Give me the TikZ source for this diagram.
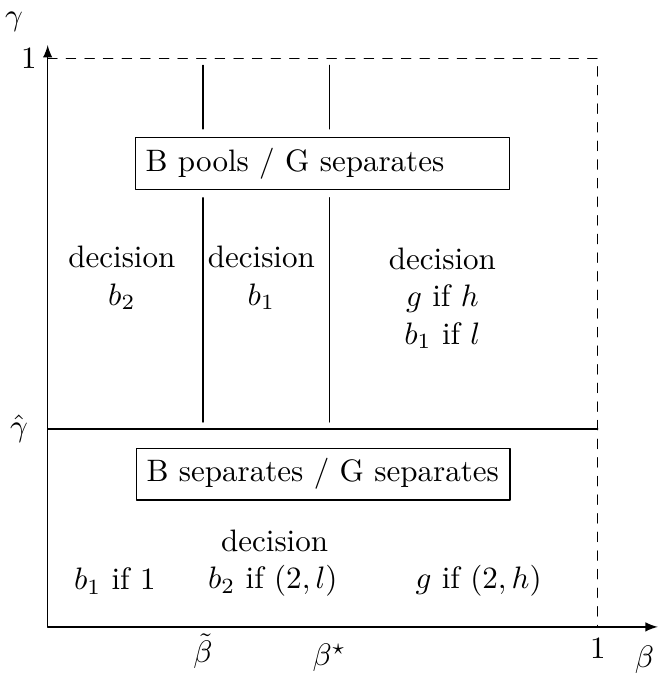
\documentclass[tikz,border=0pt]{standalone}
\usepackage{amsmath,amssymb}
\usepackage{tikz}
\usetikzlibrary{positioning}

\begin{document}
\begin{tikzpicture}[>=latex, line join=round, line cap=round]
	\tikzset{regime/.style={draw, text width=4cm}, region/.style={align=center}}
	\def \bt{1.76} \def \bs{3.19} \def \gh{2.24} \def \xa{6.23} \def \ya{6.44}
	\useasboundingbox (-0.54,-0.59) rectangle (6.91,7.10);
	\coordinate (O) at (0,0);
	\coordinate (X) at (6.91,0);
	\coordinate (Y) at (0,6.59);
	\coordinate (Ya) at (0,\ya);
	\coordinate (Xa) at (\xa,0);
	\coordinate (XYa) at (\xa,\ya);
	\coordinate (Gl) at (0,\gh);
	\coordinate (Gr) at (\xa,\gh);
	\coordinate (T1) at (\bt,6.36);
	\coordinate (T2) at (\bs,6.36);
	\coordinate (B1) at (\bt,2.32);
	\coordinate (B2) at (\bs,2.32);
	
	% axes and frame
	\draw[->] (O) -- (X);
	\draw[->] (O) -- (Y);
	\draw[dashed] (Ya) -- (XYa) -- (Xa);
	\draw (Gl) -- (Gr);
	
	\node[regime] (pool) at (3.11,5.25) {B pools / G separates};
	\node[regime] (sep) at (3.12,1.73) {B separates / G separates};
	
	\draw[shorten >=0.09cm] (T1) -- (T1 |- pool.north);
	\draw[shorten >=0.09cm] (T2) -- (T2 |- pool.north);
	\draw[shorten <=0.09cm] (B1 |- pool.south) -- (B1);
	\draw[shorten <=0.09cm] (B2 |- pool.south) -- (B2);
	
	% decisions
	\node[region] (dA) at (0.84,3.95) {decision\\ $b_2$};
	\node[region] (dB) at (2.42,3.95) {decision\\ $b_1$};
	\node[region] (dC) at (4.47,3.72) {decision\\ $g$ if $h$\\ $b_1$ if $l$};
	\node[region] (dD) at (2.57,0.97) {decision};
	\node (eA) at (0.76,0.52) {$b_1$ if 1};
	\node (eB) at (2.55,0.52) {$b_2$ if $(2,l)$};
	\node (eC) at (4.88,0.52) {$g$ if $(2,h)$};
	
	% labels
	\node (lg) at (-0.38,6.85) {$\gamma$};
	\node[left] (l1) at (Ya) {1};
	\node[left=0.1cm] (lgh) at (Gl) {$\hat{\gamma}$};
	\node[below, inner sep=2pt] (lbt) at (\bt,0) {$\tilde{\beta}$};
	\node[below, yshift=-2pt] (lbs) at (\bs,0) {$\beta^\star$};
	\node[below] (lx1) at (Xa) {1};
	\node (lb) at (6.76,-0.37) {$\beta$};
\end{tikzpicture}
\end{document}
